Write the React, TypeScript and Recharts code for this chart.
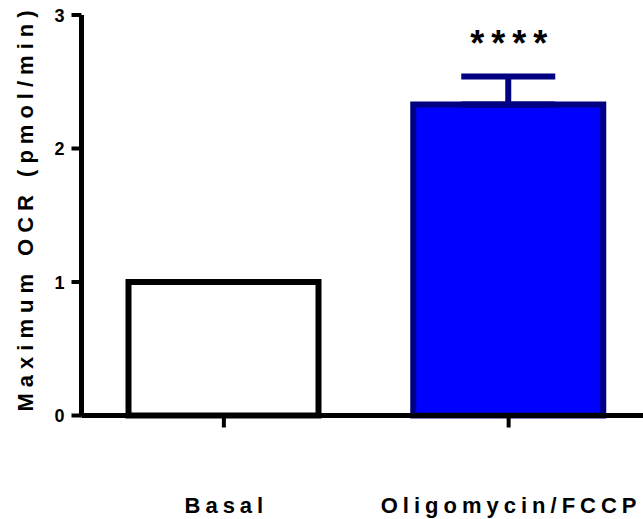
import React from "react";
import { BarChart, Bar, XAxis, YAxis, Cell, ErrorBar, LabelList } from "recharts";

const groups = ["Basal", "Oligomycin/FCCP"];
const ocr = [1.0, 2.33];
const ocrError = [null, [0, 0.21]];
const significance = ["", "****"];
const yTicks = [0, 1, 2, 3];

const fills = ["#ffffff", "#0000ff"];
const strokes = ["#000000", "#000080"];

const data = groups.map((group, i) => ({
  group,
  ocr: ocr[i],
  err: ocrError[i],
  sig: significance[i],
}));

const FONT = "'Liberation Sans', Arial, sans-serif";

function XTick({ x, y, payload }: any) {
  return (
    <text
      x={x + 2.5}
      y={y}
      dy={15}
      textAnchor="middle"
      fontFamily={FONT}
      fontWeight="bold"
      fontSize={22}
      fill="#000"
      style={{ letterSpacing: "5px" }}
    >
      {payload.value}
    </text>
  );
}

function YTick({ x, y, payload }: any) {
  return (
    <text
      x={x}
      y={y}
      dy={6.5}
      textAnchor="end"
      fontFamily={FONT}
      fontWeight="bold"
      fontSize={18}
      fill="#000"
    >
      {payload.value}
    </text>
  );
}

function StarsLabel({ x, y, width, value }: any) {
  if (!value) return null;
  return (
    <text
      x={x + width / 2 + 4}
      y={y - 48}
      textAnchor="middle"
      fontFamily={FONT}
      fontWeight="bold"
      fontSize={36}
      fill="#000"
      style={{ letterSpacing: "7px" }}
    >
      {value}
    </text>
  );
}

export default function App() {
  return (
    <div
      style={{
        position: "absolute",
        left: 0,
        top: 0,
        width: 643,
        height: 519,
        overflow: "hidden",
        background: "#fff",
      }}
    >
      <BarChart
        width={660}
        height={519}
        data={data}
        margin={{ top: 15, right: 9, left: 0, bottom: 0 }}
      >
        <XAxis
          dataKey="group"
          height={103.5}
          axisLine={{ stroke: "#000", strokeWidth: 5 }}
          tickLine={{ stroke: "#000", strokeWidth: 4 }}
          tickSize={12}
          tickMargin={70}
          tick={<XTick />}
          interval={0}
        />
        <YAxis
          width={81.5}
          domain={[0, 3]}
          ticks={yTicks}
          axisLine={{ stroke: "#000", strokeWidth: 5 }}
          tickLine={{ stroke: "#000", strokeWidth: 4 }}
          tickSize={10}
          tickMargin={7}
          tick={<YTick />}
          label={{
            content: () => (
              <text
                x={33}
                y={208}
                transform="rotate(-90 33 208)"
                textAnchor="middle"
                fontFamily={FONT}
                fontWeight="bold"
                fontSize={22}
                fill="#000"
                style={{ letterSpacing: "6px" }}
              >
                Maximum OCR (pmol/min)
              </text>
            ),
          }}
        />
        <Bar dataKey="ocr" barSize={190} strokeWidth={6} isAnimationActive={false}>
          {data.map((d, i) => (
            <Cell key={d.group} fill={fills[i]} stroke={strokes[i]} />
          ))}
          <ErrorBar
            dataKey="err"
            width={47}
            stroke="#000080"
            strokeWidth={6}
            direction="y"
            isAnimationActive={false}
          />
          <LabelList dataKey="sig" content={<StarsLabel />} />
        </Bar>
      </BarChart>
    </div>
  );
}
